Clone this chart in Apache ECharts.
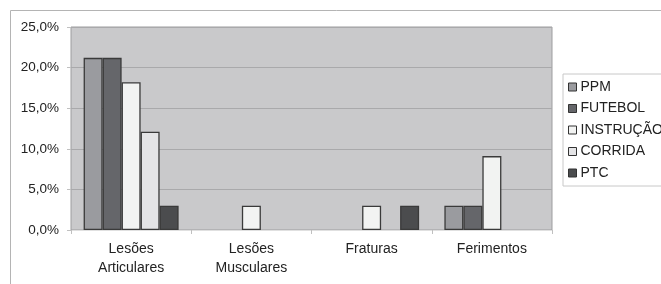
<!DOCTYPE html>
<html>
<head>
<meta charset="utf-8">
<script src="https://cdn.jsdelivr.net/npm/echarts@6/dist/echarts.min.js"></script>
<style>
html,body{margin:0;padding:0;background:#fff;}
#chart{width:661px;height:284px;}
</style>
</head>
<body>
<div id="chart"></div>
<script>
// categorias e valores (%)
var categorias = ['Lesões\nArticulares', 'Lesões\nMusculares', 'Fraturas', 'Ferimentos'];
var ppm = [21.2, null, null, 3.0];
var futebol = [21.2, null, null, 3.0];
var instrucao = [18.2, 3.0, 3.0, 9.1];
var corrida = [12.1, null, null, null];
var ptc = [3.0, null, 3.0, null];
var yTicks = [0, 5, 10, 15, 20, 25];

var nomes = ['PPM', 'FUTEBOL', 'INSTRUÇÃO', 'CORRIDA', 'PTC'];
var cores = ['#9a9b9f', '#65666a', '#f2f3f2', '#e4e4e6', '#4b4c4e'];
var valores = [ppm, futebol, instrucao, corrida, ptc];

var chart = echarts.init(document.getElementById('chart'));
var series = [];
nomes.forEach(function (n, i) {
    series.push({
        name: n,
        type: 'bar',
        data: valores[i],
        barGap: '0%',
        barCategoryGap: '21%',
        itemStyle: {
            color: cores[i],
            borderColor: '#3a3a3a',
            borderWidth: 1.3
        }
    });
});

var option = {
    textStyle: { fontFamily: 'Liberation Sans, Arial, sans-serif' },
    animation: false,
    graphic: [{
        type: 'rect',
        left: 8, top: 8,
        shape: { width: 720, height: 320 },
        style: { fill: 'none', stroke: '#b4b4b4', lineWidth: 1 },
        silent: true
    }],
    legend: {
        orient: 'vertical',
        left: 563,
        top: 74,
        padding: [6, 60, 6, 5],
        itemGap: 7.5,
        itemWidth: 8,
        itemHeight: 8,
        icon: 'rect',
        borderColor: '#c8c8c8',
        borderWidth: 1,
        itemStyle: { borderColor: '#333', borderWidth: 1 },
        textStyle: { color: '#222', fontSize: 14, padding: [0, 0, 0, -1] },
        data: nomes
    },
    grid: {
        left: 71, top: 27, right: 109, bottom: 54,
        show: true,
        backgroundColor: '#c9c9cb',
        borderColor: '#9d9d9f',
        borderWidth: 1
    },
    xAxis: {
        type: 'category',
        data: categorias,
        axisLine: { show: true, lineStyle: { color: '#e0e0e0' } },
        axisTick: { show: true, length: 4, lineStyle: { color: '#c0c0c0' } },
        axisLabel: {
            interval: 0,
            color: '#222',
            fontSize: 14,
            lineHeight: 19,
            margin: 10,
            verticalAlign: 'top'
        },
        splitLine: { show: false }
    },
    yAxis: {
        type: 'value',
        min: yTicks[0],
        max: yTicks[yTicks.length - 1],
        interval: 5,
        axisLine: { show: false },
        axisTick: { show: true, length: 4, lineStyle: { color: '#c0c0c0' } },
        axisLabel: {
            color: '#222',
            fontSize: 13.5,
            margin: 12,
            formatter: function (v) { return v.toFixed(1).replace('.', ',') + '%'; }
        },
        splitLine: { show: true, lineStyle: { color: '#a9a9ab', width: 1 } }
    },
    series: series
};
chart.setOption(option);
</script>
</body>
</html>
